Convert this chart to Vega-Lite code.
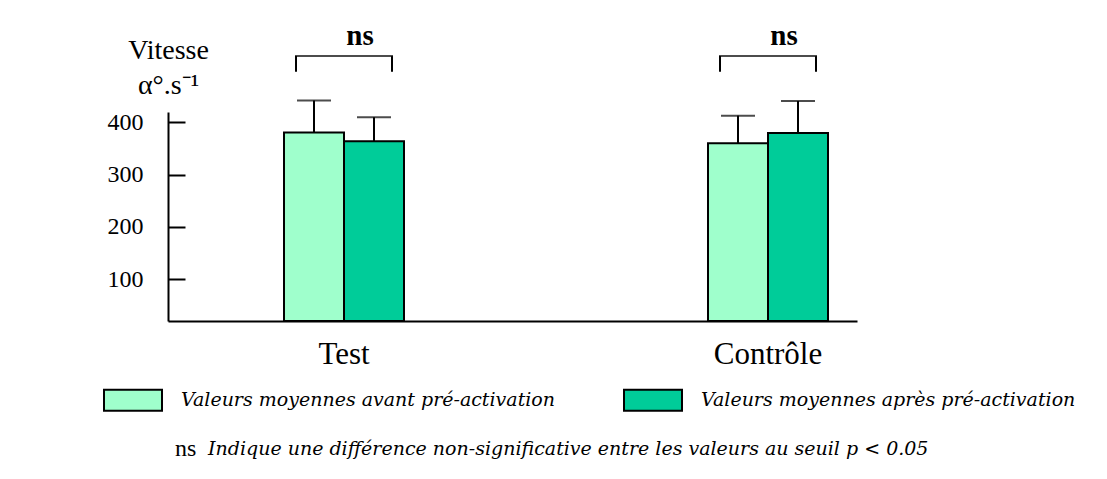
{
  "$schema": "https://vega.github.io/schema/vega-lite/v6.json",
  "autosize": {"type": "none"},
  "padding": {"left": 168, "top": 112, "right": 250, "bottom": 158},
  "width": 689,
  "height": 209,
  "background": "white",
  "config": {
    "view": {"stroke": null},
    "font": "Liberation Serif",
    "axis": {"grid": false, "domainColor": "black", "domainWidth": 2, "tickColor": "black", "labelColor": "black", "titleColor": "black", "labelFont": "Liberation Serif", "titleFont": "Liberation Serif"},
    "legend": {"labelFont": "Liberation Serif", "titleFont": "Liberation Serif", "labelColor": "black", "titleColor": "black"}
  },
  "datasets": {
    "barres": [
      {"groupe": "Test", "serie": "Valeurs moyennes avant pré-activation", "moyenne": 381, "erreur_haut": 442},
      {"groupe": "Test", "serie": "Valeurs moyennes après pré-activation", "moyenne": 364, "erreur_haut": 410},
      {"groupe": "Contrôle", "serie": "Valeurs moyennes avant pré-activation", "moyenne": 360, "erreur_haut": 413},
      {"groupe": "Contrôle", "serie": "Valeurs moyennes après pré-activation", "moyenne": 380, "erreur_haut": 441}
    ],
    "comparaisons": [
      {"groupe": "Test", "signif": "ns", "note": "Indique une différence non-significative entre les valeurs au seuil p < 0.05"},
      {"groupe": "Contrôle", "signif": "ns", "note": "Indique une différence non-significative entre les valeurs au seuil p < 0.05"}
    ]
  },
  "layer": [
    {
      "data": {"name": "barres"},
      "mark": {"type": "bar", "stroke": "black", "strokeWidth": 2},
      "encoding": {
        "x": {"field": "groupe", "type": "nominal", "title": null,
              "scale": {"domain": ["Test", "Contrôle"], "paddingInner": 0.717, "paddingOuter": 0.171, "align": 0.8},
              "axis": {"labelAngle": 0, "labelFontSize": 31, "ticks": false, "tickSize": 0, "labelPadding": 42, "labelBaseline": "alphabetic"}},
        "xOffset": {"field": "serie", "type": "nominal",
              "scale": {"domain": ["Valeurs moyennes avant pré-activation", "Valeurs moyennes après pré-activation"], "paddingInner": 0, "paddingOuter": 0}},
        "y": {"field": "moyenne", "type": "quantitative", "title": ["Vitesse", "α°.s⁻¹"],
              "scale": {"domain": [20, 420], "zero": false, "nice": false},
              "axis": {"values": [100, 200, 300, 400], "tickSize": -17, "tickWidth": 2, "labelFontSize": 24, "labelPadding": 42,
                       "titleAngle": 0, "titleAlign": "center", "titleBaseline": "alphabetic",
                       "titleX": 0, "titleY": -54, "titleFontSize": 28, "titleFontWeight": "normal", "titleLineHeight": 35}},
        "y2": {"datum": 20},
        "color": {"field": "serie", "type": "nominal",
              "scale": {"domain": ["Valeurs moyennes avant pré-activation", "Valeurs moyennes après pré-activation"], "range": ["#9fffcc", "#00cc99"]},
              "legend": {"orient": "none", "legendX": -65, "legendY": 258, "direction": "horizontal", "title": null,
                         "symbolType": "M-1,-0.362H1V0.362H-1Z", "symbolSize": 3364, "symbolStrokeWidth": 2, "symbolOpacity": 1,
                         "labelFont": "DejaVu Serif", "labelFontSize": 19, "labelFontStyle": "italic", "labelOffset": 18, "columnPadding": 64, "labelLimit": 600,
                         "encode": {"symbols": {"update": {"stroke": {"signal": "datum.value === 'Valeurs moyennes avant pré-activation' ? 'black' : '#808080'"}}}}}}
      }
    },
    {
      "data": {"name": "barres"},
      "mark": {"type": "rule", "color": "black", "strokeWidth": 2},
      "encoding": {
        "x": {"field": "groupe", "type": "nominal", "title": null,
              "scale": {"domain": ["Test", "Contrôle"], "paddingInner": 0.717, "paddingOuter": 0.171, "align": 0.8}},
        "xOffset": {"field": "serie", "type": "nominal",
              "scale": {"domain": ["Valeurs moyennes avant pré-activation", "Valeurs moyennes après pré-activation"], "paddingInner": 0, "paddingOuter": 0}},
        "y": {"field": "moyenne", "type": "quantitative", "title": ["Vitesse", "α°.s⁻¹"], "scale": {"domain": [20, 420], "zero": false, "nice": false}},
        "y2": {"field": "erreur_haut"}
      }
    },
    {
      "data": {"name": "barres"},
      "mark": {"type": "tick", "color": "black", "thickness": 2, "size": 34, "orient": "horizontal"},
      "encoding": {
        "x": {"field": "groupe", "type": "nominal", "title": null,
              "scale": {"domain": ["Test", "Contrôle"], "paddingInner": 0.717, "paddingOuter": 0.171, "align": 0.8}},
        "xOffset": {"field": "serie", "type": "nominal",
              "scale": {"domain": ["Valeurs moyennes avant pré-activation", "Valeurs moyennes après pré-activation"], "paddingInner": 0, "paddingOuter": 0}},
        "y": {"field": "erreur_haut", "type": "quantitative", "title": ["Vitesse", "α°.s⁻¹"], "scale": {"domain": [20, 420], "zero": false, "nice": false}}
      }
    },
    {
      "data": {"name": "comparaisons"},
      "mark": {"type": "rule", "color": "black", "strokeWidth": 2},
      "encoding": {
        "x": {"field": "groupe", "type": "nominal", "title": null, "bandPosition": 0.1,
              "scale": {"domain": ["Test", "Contrôle"], "paddingInner": 0.717, "paddingOuter": 0.171, "align": 0.8}},
        "y": {"datum": 497, "type": "quantitative", "title": ["Vitesse", "α°.s⁻¹"], "scale": {"domain": [20, 420], "zero": false, "nice": false}},
        "y2": {"datum": 527},
        "strokeDash": {"field": "note", "type": "nominal", "scale": {"range": [[1, 0]]},
              "legend": {"orient": "none", "legendX": 7, "legendY": 327, "title": "ns", "titleOrient": "left", "titleFontSize": 24,
                         "titleFontWeight": "normal", "titlePadding": 8, "titleBaseline": "middle",
                         "symbolSize": 1, "symbolStrokeWidth": 0, "symbolOpacity": 0, "labelOffset": -16,
                         "labelFont": "DejaVu Serif", "labelFontSize": 19, "labelFontStyle": "italic", "labelLimit": 900}}
      }
    },
    {
      "data": {"name": "comparaisons"},
      "mark": {"type": "rule", "color": "black", "strokeWidth": 2},
      "encoding": {
        "x": {"field": "groupe", "type": "nominal", "title": null, "bandPosition": 0.9,
              "scale": {"domain": ["Test", "Contrôle"], "paddingInner": 0.717, "paddingOuter": 0.171, "align": 0.8}},
        "y": {"datum": 497, "type": "quantitative", "title": ["Vitesse", "α°.s⁻¹"], "scale": {"domain": [20, 420], "zero": false, "nice": false}},
        "y2": {"datum": 527}
      }
    },
    {
      "data": {"name": "comparaisons"},
      "mark": {"type": "tick", "color": "black", "thickness": 2, "size": 98, "orient": "horizontal"},
      "encoding": {
        "x": {"field": "groupe", "type": "nominal", "title": null,
              "scale": {"domain": ["Test", "Contrôle"], "paddingInner": 0.717, "paddingOuter": 0.171, "align": 0.8}},
        "y": {"datum": 527, "type": "quantitative", "title": ["Vitesse", "α°.s⁻¹"], "scale": {"domain": [20, 420], "zero": false, "nice": false}}
      }
    },
    {
      "data": {"name": "comparaisons"},
      "mark": {"type": "text", "font": "Liberation Serif", "fontSize": 29, "fontWeight": "bold", "color": "black", "align": "center", "baseline": "alphabetic", "dx": 16},
      "encoding": {
        "x": {"field": "groupe", "type": "nominal", "title": null,
              "scale": {"domain": ["Test", "Contrôle"], "paddingInner": 0.717, "paddingOuter": 0.171, "align": 0.8}},
        "y": {"datum": 548, "type": "quantitative", "title": ["Vitesse", "α°.s⁻¹"], "scale": {"domain": [20, 420], "zero": false, "nice": false}},
        "text": {"field": "signif"}
      }
    }
  ]
}
